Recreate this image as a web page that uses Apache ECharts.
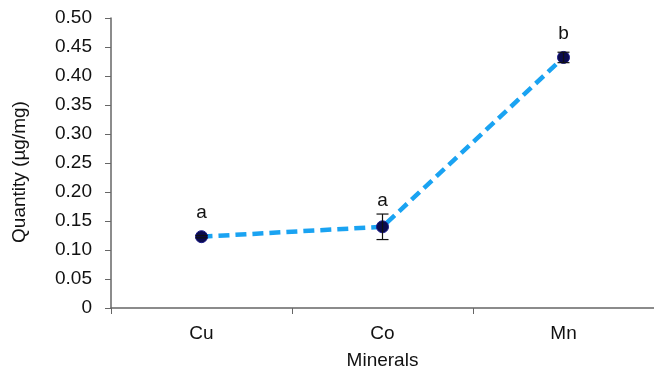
<!DOCTYPE html>
<html><head><meta charset="utf-8">
<script src="https://cdn.jsdelivr.net/npm/echarts@6/dist/echarts.min.js"></script>
<style>html,body{margin:0;padding:0;background:#fff}#c{width:654px;height:375px}</style>
</head><body><div id="c"></div>
<script>
const categories = ["Cu", "Co", "Mn"];
const values = [0.123, 0.140, 0.432];
const errors = [0.002, 0.022, 0.009];
const letters = ["a", "a", "b"];
const yTicks = [0, 0.05, 0.1, 0.15, 0.2, 0.25, 0.3, 0.35, 0.4, 0.45, 0.5];

const font = "Liberation Sans, Arial, Helvetica, sans-serif";
const fs = 19;
const chart = echarts.init(document.getElementById('c'));
chart.setOption({
  animation: false,
  grid: { left: 111, top: 18, width: 549, bottom: 60, containLabel: false },
  xAxis: {
    type: 'category', data: categories,
    name: 'Minerals', nameLocation: 'middle', nameGap: 43,
    nameTextStyle: { fontFamily: font, fontSize: fs, color: '#111' },
    axisLine: { lineStyle: { color: '#666', width: 1.5 } },
    axisTick: { show: true, length: 6, lineStyle: { color: '#666' } },
    axisLabel: { fontFamily: font, fontSize: fs, color: '#111', margin: 16 }
  },
  yAxis: {
    type: 'value', min: yTicks[0], max: yTicks[yTicks.length - 1], interval: 0.05,
    name: 'Quantity (µg/mg)', nameLocation: 'middle', nameGap: 82, nameRotate: 90,
    nameTextStyle: { fontFamily: font, fontSize: fs, color: '#111', padding: [0, 18, 0, 0] },
    splitLine: { show: false },
    axisLine: { show: true, lineStyle: { color: '#666', width: 1.5 } },
    axisTick: { show: true, length: 6, lineStyle: { color: '#666' } },
    axisLabel: { fontFamily: font, fontSize: fs, color: '#111', margin: 19,
      formatter: v => v === 0 ? '0' : v.toFixed(2) }
  },
  series: [
    {
      type: 'line', data: values, symbol: 'circle', symbolSize: 12,
      lineStyle: { color: '#1aa3f2', width: 4.5, type: [11, 6] },
      itemStyle: { color: '#0b0b4d', borderColor: '#1a1a8a', borderWidth: 1 },
      z: 3
    },
    {
      type: 'custom', z: 4,
      data: values.map((v, i) => [i, v, errors[i]]),
      renderItem: function (params, api) {
        const x = api.value(0), v = api.value(1), e = api.value(2);
        const top = api.coord([x, v + e]);
        const bot = api.coord([x, v - e]);
        const pt = api.coord([x, v]);
        const half = 6;
        const style = { stroke: '#111', lineWidth: 1.2 };
        const children = [];
        if (bot[1] - top[1] > 3) {
          children.push({ type: 'line', shape: { x1: top[0], y1: top[1], x2: bot[0], y2: bot[1] }, style });
        }
        children.push({ type: 'line', shape: { x1: top[0] - half, y1: top[1], x2: top[0] + half, y2: top[1] }, style });
        children.push({ type: 'line', shape: { x1: bot[0] - half, y1: bot[1], x2: bot[0] + half, y2: bot[1] }, style });
        const ly = Math.min(top[1] - 13, pt[1] - 24);
        children.push({ type: 'text', style: { text: letters[params.dataIndex], x: pt[0], y: ly,
          textAlign: 'center', textVerticalAlign: 'middle', font: fs + 'px ' + font, fill: '#111' } });
        return { type: 'group', children };
      }
    }
  ]
});
</script></body></html>
